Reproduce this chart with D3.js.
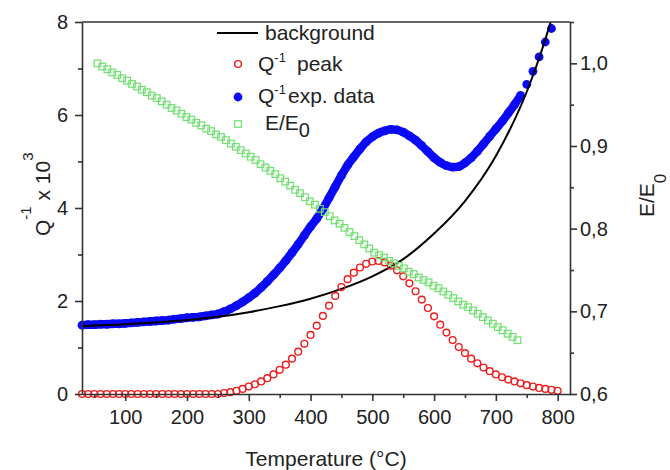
<!DOCTYPE html>
<html>
<head>
<meta charset="utf-8">
<script src="https://cdn.jsdelivr.net/npm/d3@7/dist/d3.min.js"></script>
<style>
body { margin: 0; background: #fff; }
text { font-family: "Liberation Sans", Arial, sans-serif; fill: #222; }
</style>
</head>
<body>
<svg id="chart"></svg>
<script>
var width = 670;
var height = 470;

var plot = {left: 82, right: 570, top: 22, bottom: 394};

// tick values
var xTicks = [100, 200, 300, 400, 500, 600, 700, 800];
var xMinor = [50, 150, 250, 350, 450, 550, 650, 750];
var qTicks = [0, 2, 4, 6, 8];
var qMinor = [1, 3, 5, 7];
var eTicks = [0.6, 0.7, 0.8, 0.9, 1.0];
var eMinor = [0.65, 0.75, 0.85, 0.95, 1.05];

// Q^-1 exp. data (blue dots)
var expTemp = [30,40,50,60,70,80,90,100,110,120,130,140,150,160,170,180,190,200,210,220,230,240,250,260,270,280,290,300,310,320,330,340,350,360,370,380,390,400,410,420,430,440,450,460,470,480,490,500,510,520,530,540,550,560,570,580,590,600,610,620,630,640,650,660,670,680,690,700,710,720,730,740,750,760,770,780,790];
var expQ = [1.48,1.49,1.49,1.50,1.50,1.51,1.51,1.52,1.53,1.54,1.55,1.56,1.57,1.58,1.59,1.61,1.62,1.64,1.65,1.66,1.68,1.70,1.72,1.77,1.83,1.90,1.98,2.07,2.17,2.29,2.42,2.56,2.71,2.87,3.04,3.22,3.41,3.60,3.77,3.98,4.22,4.46,4.70,4.92,5.10,5.27,5.42,5.53,5.61,5.66,5.69,5.68,5.63,5.55,5.46,5.34,5.21,5.08,4.98,4.91,4.88,4.89,4.97,5.08,5.22,5.38,5.54,5.70,5.86,6.04,6.22,6.42,6.66,6.94,7.25,7.57,7.86];

// Q^-1 peak (red open circles)
var peakTemp = [30,40,50,60,70,80,90,100,110,120,130,140,150,160,170,180,190,200,210,220,230,240,250,260,270,280,290,300,310,320,330,340,350,360,370,380,390,400,410,420,430,440,450,460,470,480,490,500,510,520,530,540,550,560,570,580,590,600,610,620,630,640,650,660,670,680,690,700,710,720,730,740,750,760,770,780,790,800];
var peakQ = [0,0,0,0,0,0,0,0,0,0,0,0,0,0,0,0,0,0,0,0,0,0,0,0.02,0.04,0.07,0.11,0.16,0.21,0.27,0.34,0.42,0.52,0.63,0.76,0.91,1.08,1.27,1.47,1.68,1.90,2.11,2.30,2.47,2.61,2.72,2.80,2.85,2.86,2.83,2.76,2.66,2.53,2.38,2.21,2.03,1.85,1.67,1.49,1.32,1.16,1.01,0.88,0.76,0.66,0.57,0.49,0.42,0.36,0.31,0.27,0.23,0.19,0.16,0.13,0.11,0.09,0.07];

// background (black line)
var bgTemp = [30, 100, 150, 200, 250, 300, 350, 400, 450, 500, 550, 600, 650, 700, 725, 750, 775, 800];
var bgQ = [1.46, 1.50, 1.54, 1.59, 1.66, 1.76, 1.89, 2.05, 2.26, 2.53, 2.90, 3.45, 4.15, 5.12, 5.75, 6.50, 7.42, 8.50];

// E/E0 (green open squares)
var modTemp = [55,63,71,79,87,95,103,111,119,127,135,143,151,159,167,175,183,191,199,207,215,223,231,239,247,255,263,271,279,287,295,303,311,319,327,335,343,351,359,367,375,383,391,399,407,415,423,431,439,447,455,463,471,479,487,495,503,511,519,527,535,543,551,559,567,575,583,591,599,607,615,623,631,639,647,655,663,671,679,687,695,703,711,719,727,735];
var modE = [1.000,0.996,0.993,0.989,0.986,0.982,0.979,0.975,0.972,0.968,0.965,0.961,0.958,0.954,0.950,0.946,0.943,0.939,0.935,0.932,0.928,0.925,0.921,0.918,0.914,0.911,0.907,0.903,0.899,0.895,0.891,0.887,0.883,0.878,0.874,0.870,0.866,0.861,0.857,0.852,0.847,0.843,0.838,0.833,0.829,0.824,0.820,0.815,0.810,0.806,0.801,0.796,0.791,0.786,0.781,0.776,0.771,0.768,0.765,0.761,0.758,0.755,0.752,0.748,0.745,0.741,0.738,0.735,0.731,0.728,0.724,0.720,0.716,0.712,0.708,0.705,0.701,0.697,0.693,0.689,0.685,0.681,0.677,0.673,0.669,0.665];

var blue = "#0a0af5";
var red = "#ee1c1c";
var green = "#6fe06f";
var axisColor = "#333";

var zip = function(a, b) {
    return a.map(function(d, i) { return {x: d, y: b[i]}; });
};

var svg = d3.select("#chart")
    .attr("width", width)
    .attr("height", height)
    .style("background", "#fff");

var xScale = d3.scaleLinear().domain([30, 820]).range([plot.left, plot.right]);
var qScale = d3.scaleLinear().domain([0, 8]).range([plot.bottom, plot.top]);
var eScale = d3.scaleLinear().domain([0.6, 1.05]).range([plot.bottom, plot.top]);

svg.append("clipPath").attr("id", "plotClip")
    .append("rect")
    .attr("x", plot.left).attr("y", plot.top)
    .attr("width", plot.right - plot.left)
    .attr("height", plot.bottom - plot.top);

var line = d3.line()
    .x(function(d) { return xScale(d.x); })
    .y(function(d) { return qScale(d.y); })
    .curve(d3.curveMonotoneX);

// blue experimental data: the dots sit so close they read as a band
var expData = zip(expTemp, expQ);

svg.append("path")
    .datum(expData.filter(function(d) { return d.x <= 740; }))
    .attr("d", line)
    .attr("fill", "none")
    .attr("stroke", blue)
    .attr("stroke-width", 8.4)
    .attr("stroke-linejoin", "round");

svg.append("g").attr("id", "exp")
    .selectAll("circle")
    .data(expData)
    .enter().append("circle")
    .attr("cx", function(d) { return xScale(d.x); })
    .attr("cy", function(d) { return qScale(d.y); })
    .attr("r", 4.4)
    .attr("fill", blue);

// background line
svg.append("path")
    .datum(zip(bgTemp, bgQ))
    .attr("clip-path", "url(#plotClip)")
    .attr("d", line)
    .attr("fill", "none")
    .attr("stroke", "#000")
    .attr("stroke-width", 2);

// red peak
svg.append("g").attr("id", "peak")
    .selectAll("circle")
    .data(zip(peakTemp, peakQ))
    .enter().append("circle")
    .attr("cx", function(d) { return xScale(d.x); })
    .attr("cy", function(d) { return qScale(d.y); })
    .attr("r", 3.4)
    .attr("fill", "none")
    .attr("stroke", red)
    .attr("stroke-width", 1.4);

// green modulus
svg.append("g").attr("id", "modulus")
    .selectAll("rect")
    .data(zip(modTemp, modE))
    .enter().append("rect")
    .attr("x", function(d) { return xScale(d.x) - 3.3; })
    .attr("y", function(d) { return eScale(d.y) - 3.3; })
    .attr("width", 6.6)
    .attr("height", 6.6)
    .attr("fill", "none")
    .attr("stroke", green)
    .attr("stroke-width", 1.2);

// axes
function styleAxis(g) {
    g.selectAll(".domain, .tick line")
        .attr("stroke", axisColor)
        .attr("stroke-width", 1.6);
    g.selectAll("text")
        .style("font-size", "20px")
        .style("font-family", "'Liberation Sans', Arial, sans-serif")
        .attr("fill", "#222");
}

svg.append("g")
    .attr("transform", "translate(0," + plot.bottom + ")")
    .call(d3.axisBottom(xScale).tickValues(xTicks).tickSize(7).tickSizeOuter(0).tickPadding(9))
    .call(styleAxis);

svg.append("g")
    .attr("transform", "translate(0," + plot.bottom + ")")
    .call(d3.axisBottom(xScale).tickValues(xMinor).tickSize(4).tickFormat(""))
    .call(function(g) { g.select(".domain").remove(); })
    .call(styleAxis);

svg.append("g")
    .attr("transform", "translate(" + plot.left + ",0)")
    .call(d3.axisLeft(qScale).tickValues(qTicks).tickSize(7).tickSizeOuter(0).tickPadding(7))
    .call(styleAxis);

svg.append("g")
    .attr("transform", "translate(" + plot.left + ",0)")
    .call(d3.axisLeft(qScale).tickValues(qMinor).tickSize(4).tickFormat(""))
    .call(function(g) { g.select(".domain").remove(); })
    .call(styleAxis);

svg.append("g")
    .attr("transform", "translate(" + plot.right + ",0)")
    .call(d3.axisRight(eScale).tickValues(eTicks).tickSize(7).tickSizeOuter(0).tickPadding(3)
        .tickFormat(function(d) { return d3.format(".1f")(d).replace(".", ","); }))
    .call(styleAxis);

svg.append("g")
    .attr("transform", "translate(" + plot.right + ",0)")
    .call(d3.axisRight(eScale).tickValues(eMinor).tickSize(4).tickFormat(""))
    .call(function(g) { g.select(".domain").remove(); })
    .call(styleAxis);

// top frame line
svg.append("line")
    .attr("x1", plot.left).attr("x2", plot.right)
    .attr("y1", plot.top).attr("y2", plot.top)
    .attr("stroke", axisColor)
    .attr("stroke-width", 1.6);

// axis titles
svg.append("text")
    .attr("x", 326)
    .attr("y", 466)
    .attr("text-anchor", "middle")
    .style("font-size", "21px")
    .text("Temperature (°C)");

var qTitle = svg.append("text")
    .attr("transform", "translate(50,236) rotate(-90)")
    .style("font-size", "21px");
qTitle.append("tspan").text("Q");
qTitle.append("tspan").attr("dy", -19).style("font-size", "15px").text("-1");
qTitle.append("tspan").attr("dy", 19).text(" x 10");
qTitle.append("tspan").attr("dy", -17).style("font-size", "15px").text("3");

var eTitle = svg.append("text")
    .attr("transform", "translate(654,217) rotate(-90)")
    .style("font-size", "21px");
eTitle.append("tspan").text("E/E");
eTitle.append("tspan").attr("dy", 12).style("font-size", "17px").text("0");

// legend
var legend = svg.append("g").attr("id", "legend");

legend.append("line")
    .attr("x1", 217).attr("x2", 258)
    .attr("y1", 33).attr("y2", 33)
    .attr("stroke", "#000")
    .attr("stroke-width", 2);
legend.append("text")
    .attr("x", 265).attr("y", 40)
    .style("font-size", "21px")
    .text("background");

legend.append("circle")
    .attr("cx", 238).attr("cy", 64).attr("r", 3.4)
    .attr("fill", "none").attr("stroke", red).attr("stroke-width", 1.4);
var peakLabel = legend.append("text")
    .attr("x", 258).attr("y", 71)
    .style("font-size", "21px");
peakLabel.append("tspan").text("Q");
peakLabel.append("tspan").attr("dy", -9).style("font-size", "13px").text("-1");
peakLabel.append("tspan").attr("x", 297).attr("dy", 9).text("peak");

legend.append("circle")
    .attr("cx", 238).attr("cy", 97).attr("r", 4.4)
    .attr("fill", blue);
var expLabel = legend.append("text")
    .attr("x", 258).attr("y", 103)
    .style("font-size", "21px");
expLabel.append("tspan").text("Q");
expLabel.append("tspan").attr("dy", -9).style("font-size", "13px").text("-1");
expLabel.append("tspan").attr("x", 288).attr("dy", 9).text("exp. data");

legend.append("rect")
    .attr("x", 234.7).attr("y", 120.7).attr("width", 6.6).attr("height", 6.6)
    .attr("fill", "none").attr("stroke", green).attr("stroke-width", 1.2);
var modLabel = legend.append("text")
    .attr("x", 265).attr("y", 130)
    .style("font-size", "21px");
modLabel.append("tspan").text("E/E");
modLabel.append("tspan").attr("dy", 7).style("font-size", "20px").text("0");
</script>
</body>
</html>
